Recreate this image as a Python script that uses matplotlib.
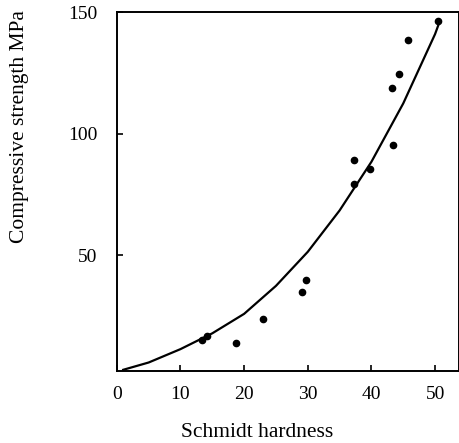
import matplotlib
matplotlib.use("Agg")
import matplotlib.pyplot as plt

plt.rcParams['font.family'] = ['Liberation Serif', 'DejaVu Serif']

# measured points
hardness = [13.4, 14.2, 18.8, 23.0, 29.1, 29.7, 37.2, 37.2, 39.7, 43.4, 43.2, 44.3, 45.7, 50.4]
strength = [15.2, 16.8, 13.9, 23.8, 34.8, 39.8, 79.5, 89.3, 85.7, 95.5, 118.9, 124.6, 138.5, 146.3]

# fitted curve
curve_x = [1.0, 5.0, 10.0, 15.0, 20.0, 25.0, 30.0, 35.0, 40.0, 45.0, 50.0, 50.7]
curve_y = [3.0, 6.0, 11.5, 18.0, 26.0, 37.5, 51.5, 68.5, 88.5, 112.5, 141.0, 146.0]

fig = plt.figure(figsize=(4.6, 4.43), dpi=100)
ax = fig.add_axes([0.254, 0.1625, 0.743, 0.810])

ax.plot(curve_x, curve_y, color="black", lw=1.6)
ax.plot(hardness, strength, "o", color="black", ms=4.5)

ax.set_xlim(0.4, 53.7)
ax.set_ylim(2.5, 150)
ax.set_xticks([0, 10, 20, 30, 40, 50])
ax.set_yticks([50, 100, 150])

ax.tick_params(direction="in", length=4, width=1.2, labelsize=14)
ax.tick_params(axis="x", pad=11)
ax.tick_params(axis="y", pad=14)
for s in ax.spines.values():
    s.set_linewidth(1.4)

ax.set_xlabel("Schmidt hardness", fontsize=15.5, va="center", ha="center")
ax.set_ylabel("Compressive strength MPa", fontsize=15.5, va="center", ha="center")
ax.xaxis.set_label_coords(0.41, -0.17)
ax.yaxis.set_label_coords(-0.285, 0.68)

fig.savefig("out.png", dpi=100)
